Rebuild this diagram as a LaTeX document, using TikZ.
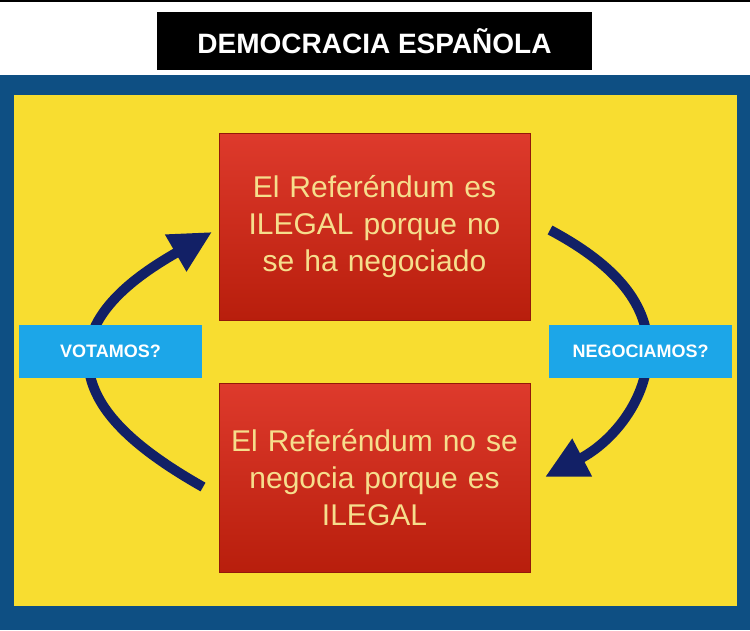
\documentclass[tikz,border=0pt]{standalone}
\usepackage{fontspec}
\setmainfont{Liberation Sans}
\usetikzlibrary{arrows.meta}
\definecolor{frameblue}{RGB}{14,79,131}
\definecolor{bgyellow}{RGB}{248,221,48}
\definecolor{lblblue}{RGB}{28,166,232}
\definecolor{navy}{RGB}{18,32,102}
\definecolor{redtop}{RGB}{222,58,44}
\definecolor{redbot}{RGB}{184,30,12}
\definecolor{txtyellow}{RGB}{246,222,140}
\begin{document}
\begin{tikzpicture}[x=1pt,y=-1pt,
  redbox/.style={draw=redbot!80!black, line width=0.8pt, top color=redtop, bottom color=redbot,
    minimum width=311pt, text width=300pt, align=center, text=txtyellow,
    font=\fontsize{30}{37}\selectfont, inner sep=0pt},
  qbox/.style={fill=lblblue, text=white, font=\bfseries\fontsize{18}{20}\selectfont,
    inner sep=0pt, minimum width=183pt, minimum height=53pt},
  cyc/.style={draw=navy, line width=10pt, -{Triangle[length=42pt,width=40pt]}}]
\useasboundingbox (0,0) rectangle (750,630);
\fill[white] (0,0) rectangle (750,630);
\fill[black] (0,0) rectangle (750,2);
\fill[frameblue] (0,75) rectangle (750,630);
\fill[bgyellow] (14,95) rectangle (737,606);

\node[fill=black, minimum width=435pt, minimum height=58pt, inner sep=0pt, text=white,
  font=\bfseries\fontsize{28}{30}\selectfont] (title) at (374.5,41) {DEMOCRACIA ESPAÑOLA};

\coordinate (la) at (203,487);
\coordinate (lb) at (212,232);
\coordinate (ra) at (550,230);
\coordinate (rb) at (545,477);
\draw[cyc] (la) .. controls (120,440) and (88,400) .. (88,357)
  .. controls (88,305) and (150,268) .. (lb);
\draw[cyc] (ra) .. controls (610,262) and (648,300) .. (648,350)
  .. controls (648,400) and (612,442) .. (rb);

\node[qbox] (vot) at (110.5,351.5) {VOTAMOS?};
\node[qbox] (neg) at (640.5,351.5) {NEGOCIAMOS?};

\node[redbox, minimum height=187pt] (top) at (374.5,226.5)
  {El Referéndum es\\ILEGAL porque no\\se ha negociado};
\node[redbox, minimum height=189pt] (bot) at (374.5,477.5)
  {El Referéndum no se\\negocia porque es\\ILEGAL};
\end{tikzpicture}
\end{document}
